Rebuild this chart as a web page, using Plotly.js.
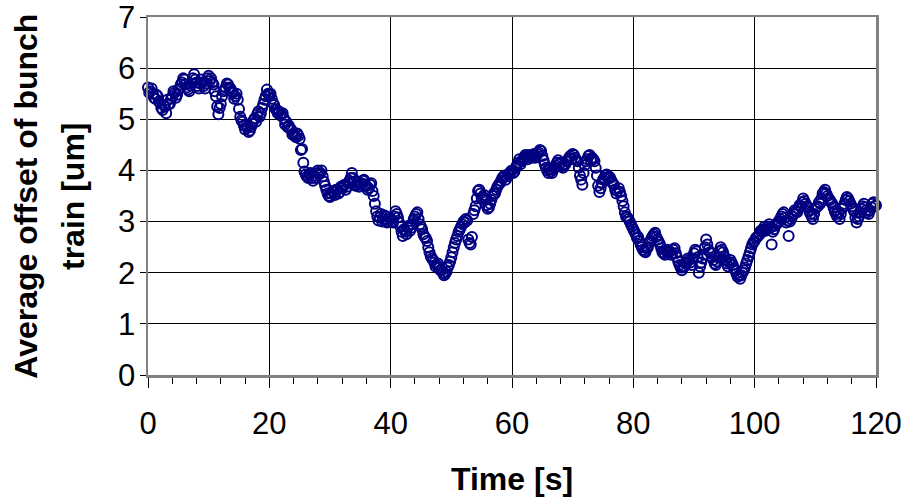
<!DOCTYPE html>
<html>
<head>
<meta charset="utf-8">
<script src="https://cdn.plot.ly/plotly-3.0.1.min.js"></script>
<style>
html,body{margin:0;padding:0;background:#fff;}
#chart{width:908px;height:501px;}
</style>
</head>
<body>
<div id="chart"></div>
<script>
// Sampling of the measurement (seconds): two interleaved sample sets
const startTime = 0;
const sampleInterval = 0.4;
const interleaveOffset = 0.2;

// Average offset of bunch train [um] at t = 0, 0.4, 0.8, ... 120
const offsetValues = [
  5.62, 5.55, 5.50, 5.40, 5.45, 5.32, 5.18, 5.25, 5.38, 5.30,
  5.45, 5.52, 5.48, 5.60, 5.72, 5.78, 5.62, 5.55, 5.70, 5.88,
  5.72, 5.60, 5.78, 5.65, 5.70, 5.85, 5.80, 5.68, 5.45, 5.10,
  5.30, 5.55, 5.62, 5.68, 5.60, 5.52, 5.45, 5.38, 5.05, 4.95,
  4.80, 4.85, 4.78, 4.92, 5.02, 5.10, 5.05, 5.22, 5.38, 5.58,
  5.48, 5.40, 5.28, 5.18, 5.15, 5.10, 5.02, 4.95, 4.88, 4.80,
  4.72, 4.65, 4.68, 4.40, 4.15, 3.92, 3.85, 3.95, 3.80, 3.85,
  4.00, 3.95, 3.88, 3.70, 3.55, 3.48, 3.60, 3.52, 3.62, 3.58,
  3.65, 3.72, 3.68, 3.80, 3.95, 3.78, 3.72, 3.68, 3.75, 3.82,
  3.70, 3.65, 3.75, 3.50, 3.20, 3.02, 3.15, 3.05, 3.10, 3.00,
  3.05, 2.98, 3.20, 3.08, 2.90, 2.72, 2.80, 2.88, 2.82, 2.95,
  3.10, 3.18, 2.95, 2.85, 2.70, 2.62, 2.40, 2.28, 2.20, 2.15,
  2.10, 2.05, 1.95, 2.02, 2.15, 2.30, 2.50, 2.65, 2.80, 2.90,
  3.00, 3.05, 2.65, 2.55, 3.15, 3.30, 3.60, 3.55, 3.48, 3.42,
  3.25, 3.35, 3.50, 3.55, 3.68, 3.75, 3.85, 3.90, 3.88, 3.95,
  4.00, 3.98, 4.10, 4.22, 4.18, 4.25, 4.28, 4.30, 4.25, 4.32,
  4.28, 4.35, 4.38, 4.20, 4.05, 3.95, 3.98, 4.02, 4.10, 4.20,
  4.15, 4.05, 4.12, 4.20, 4.28, 4.32, 4.25, 4.18, 3.90, 3.72,
  4.10, 4.22, 4.30, 4.25, 4.18, 3.90, 3.58, 3.75, 3.85, 3.92,
  3.88, 3.80, 3.72, 3.55, 3.65, 3.50, 3.30, 3.10, 3.05, 2.95,
  2.85, 2.75, 2.70, 2.55, 2.45, 2.40, 2.50, 2.62, 2.72, 2.78,
  2.65, 2.55, 2.40, 2.35, 2.45, 2.42, 2.38, 2.48, 2.30, 2.15,
  2.05, 2.12, 2.20, 2.25, 2.15, 2.38, 2.42, 2.00, 2.20, 2.35,
  2.65, 2.45, 2.38, 2.25, 2.15, 2.30, 2.50, 2.40, 2.25, 2.12,
  2.25, 2.15, 2.05, 1.92, 1.88, 2.00, 2.10, 2.25, 2.40, 2.55,
  2.62, 2.70, 2.75, 2.80, 2.90, 2.85, 2.95, 2.55, 2.85, 2.95,
  3.00, 3.10, 3.18, 2.98, 2.72, 3.05, 3.15, 3.20, 3.25, 3.30,
  3.45, 3.35, 3.28, 3.15, 3.05, 3.25, 3.30, 3.35, 3.55, 3.62,
  3.50, 3.42, 3.35, 3.20, 3.10, 3.05, 3.25, 3.35, 3.48, 3.40,
  3.30, 3.20, 2.98, 3.10, 3.25, 3.35, 3.22, 3.15, 3.28, 3.38,
  3.32
];

// Average offset of bunch train [um] at t = 0.2, 0.6, 1.0, ... 119.8
const offsetValuesInterleaved = [
  5.52, 5.60, 5.42, 5.48, 5.35, 5.22, 5.28, 5.12, 5.30, 5.40,
  5.55, 5.42, 5.58, 5.68, 5.80, 5.68, 5.58, 5.66, 5.80, 5.78,
  5.65, 5.70, 5.72, 5.60, 5.80, 5.75, 5.72, 5.55, 5.25, 5.22,
  5.45, 5.58, 5.70, 5.62, 5.55, 5.40, 5.50, 5.20, 4.98, 4.88,
  4.88, 4.75, 4.85, 4.98, 4.95, 5.15, 5.12, 5.30, 5.45, 5.50,
  5.50, 5.32, 5.20, 5.12, 5.08, 5.12, 4.90, 4.85, 4.82, 4.70,
  4.68, 4.72, 4.62, 4.42, 3.98, 3.88, 3.92, 3.85, 3.90, 3.95,
  3.92, 4.00, 3.78, 3.62, 3.50, 3.55, 3.58, 3.62, 3.55, 3.68,
  3.70, 3.62, 3.75, 3.85, 3.85, 3.70, 3.78, 3.72, 3.80, 3.72,
  3.62, 3.72, 3.60, 3.35, 3.10, 3.08, 3.00, 3.12, 2.98, 3.08,
  3.00, 3.10, 3.15, 2.98, 2.80, 2.85, 2.75, 2.92, 2.88, 3.05,
  3.15, 3.05, 2.90, 2.75, 2.68, 2.50, 2.32, 2.25, 2.12, 2.18,
  2.05, 2.00, 1.98, 2.10, 2.22, 2.40, 2.58, 2.72, 2.85, 2.95,
  2.98, 3.02, 2.58, 2.70, 3.22, 3.45, 3.62, 3.45, 3.52, 3.32,
  3.28, 3.42, 3.55, 3.62, 3.72, 3.80, 3.88, 3.82, 3.92, 3.98,
  3.95, 4.05, 4.15, 4.12, 4.22, 4.30, 4.22, 4.28, 4.30, 4.25,
  4.32, 4.40, 4.28, 4.12, 4.00, 4.02, 3.95, 4.05, 4.15, 4.12,
  4.08, 4.10, 4.18, 4.25, 4.22, 4.30, 4.20, 4.05, 3.82, 3.95,
  4.18, 4.28, 4.20, 4.22, 4.05, 3.70, 3.65, 3.82, 3.90, 3.85,
  3.85, 3.75, 3.62, 3.60, 3.58, 3.40, 3.18, 3.08, 3.00, 2.90,
  2.80, 2.68, 2.62, 2.50, 2.42, 2.48, 2.58, 2.68, 2.75, 2.70,
  2.60, 2.48, 2.38, 2.42, 2.40, 2.35, 2.45, 2.38, 2.22, 2.10,
  2.10, 2.18, 2.28, 2.20, 2.28, 2.45, 2.30, 2.12, 2.28, 2.50,
  2.55, 2.40, 2.30, 2.18, 2.22, 2.42, 2.45, 2.32, 2.18, 2.20,
  2.20, 2.08, 1.98, 1.95, 1.95, 2.05, 2.18, 2.32, 2.48, 2.60,
  2.68, 2.72, 2.82, 2.85, 2.82, 2.90, 2.88, 2.80, 2.92, 2.98,
  3.05, 3.15, 3.08, 3.02, 3.00, 3.10, 3.22, 3.18, 3.32, 3.38,
  3.40, 3.30, 3.20, 3.10, 3.15, 3.28, 3.38, 3.45, 3.58, 3.55,
  3.45, 3.38, 3.28, 3.15, 3.18, 3.15, 3.30, 3.42, 3.45, 3.35,
  3.25, 3.08, 3.05, 3.18, 3.30, 3.28, 3.18, 3.22, 3.35, 3.30
];

// Axis ticks
const xTickValues = [0, 20, 40, 60, 80, 100, 120];
const xTickLabels = ["0", "20", "40", "60", "80", "100", "120"];
const yTickValues = [0, 1, 2, 3, 4, 5, 6, 7];
const yTickLabels = ["0", "1", "2", "3", "4", "5", "6", "7"];

const xTitle = "Time [s]";
const yTitleLines = ["Average offset of bunch", "train [um]"];

const timeValues = offsetValues.map((_, i) => startTime + i * sampleInterval);
const timeValuesInterleaved = offsetValuesInterleaved.map((_, i) => startTime + interleaveOffset + i * sampleInterval);

const markerStyle = {
  symbol: 'circle-open',
  size: 10,
  color: '#000080',
  line: {color: '#000080', width: 2}
};

const traces = [
  {type: 'scatter', mode: 'markers', x: timeValues, y: offsetValues,
   cliponaxis: false, marker: markerStyle, showlegend: false},
  {type: 'scatter', mode: 'markers', x: timeValuesInterleaved, y: offsetValuesInterleaved,
   cliponaxis: false, marker: markerStyle, showlegend: false}
];

const tickFont = {family: 'Liberation Sans, Arial, sans-serif', size: 31, color: '#000'};
const titleFont = {family: 'Liberation Sans, Arial, sans-serif', size: 32, color: '#000', weight: 'bold'};

const layout = {
  width: 908,
  height: 501,
  margin: {l: 148, r: 32, t: 17, b: 126},
  paper_bgcolor: '#fff',
  plot_bgcolor: '#fff',
  xaxis: {
    range: [0, 120],
    tickmode: 'array',
    tickvals: xTickValues,
    ticktext: xTickLabels,
    ticks: 'outside',
    ticklen: 10,
    tickwidth: 1,
    tickcolor: '#000',
    ticklabelstandoff: 9,
    tickfont: tickFont,
    showgrid: true,
    gridcolor: '#000',
    gridwidth: 1,
    zeroline: false,
    showline: true,
    linecolor: '#808080',
    linewidth: 2.5,
    mirror: true,
    minor: {dtick: 4, ticks: 'outside', ticklen: 6, tickcolor: '#000', tickwidth: 1, showgrid: false},
    fixedrange: true
  },
  yaxis: {
    range: [0, 7],
    tickmode: 'array',
    tickvals: yTickValues,
    ticktext: yTickLabels,
    ticks: 'outside',
    ticklen: 6,
    tickwidth: 1,
    tickcolor: '#000',
    ticklabelstandoff: -2,
    ticklabeloverflow: 'allow',
    tickfont: tickFont,
    showgrid: true,
    gridcolor: '#000',
    gridwidth: 1,
    zeroline: false,
    showline: true,
    linecolor: '#808080',
    linewidth: 2.5,
    mirror: true,
    fixedrange: true
  },
  annotations: [
    {
      text: '<b>' + xTitle + '</b>',
      xref: 'paper', yref: 'paper',
      x: 0.5, y: -0.29,
      xanchor: 'center', yanchor: 'middle',
      showarrow: false,
      font: titleFont
    },
    {
      text: '<b>' + yTitleLines[0] + '</b>',
      xref: 'paper', yref: 'paper',
      x: -0.168, y: 0.5,
      xanchor: 'center', yanchor: 'middle',
      textangle: -90,
      showarrow: false,
      font: titleFont
    },
    {
      text: '<b>' + yTitleLines[1] + '</b>',
      xref: 'paper', yref: 'paper',
      x: -0.103, y: 0.5,
      xanchor: 'center', yanchor: 'middle',
      textangle: -90,
      showarrow: false,
      font: titleFont
    }
  ]
};

Plotly.newPlot('chart', traces, layout, {displayModeBar: false, staticPlot: true});
</script>
</body>
</html>
